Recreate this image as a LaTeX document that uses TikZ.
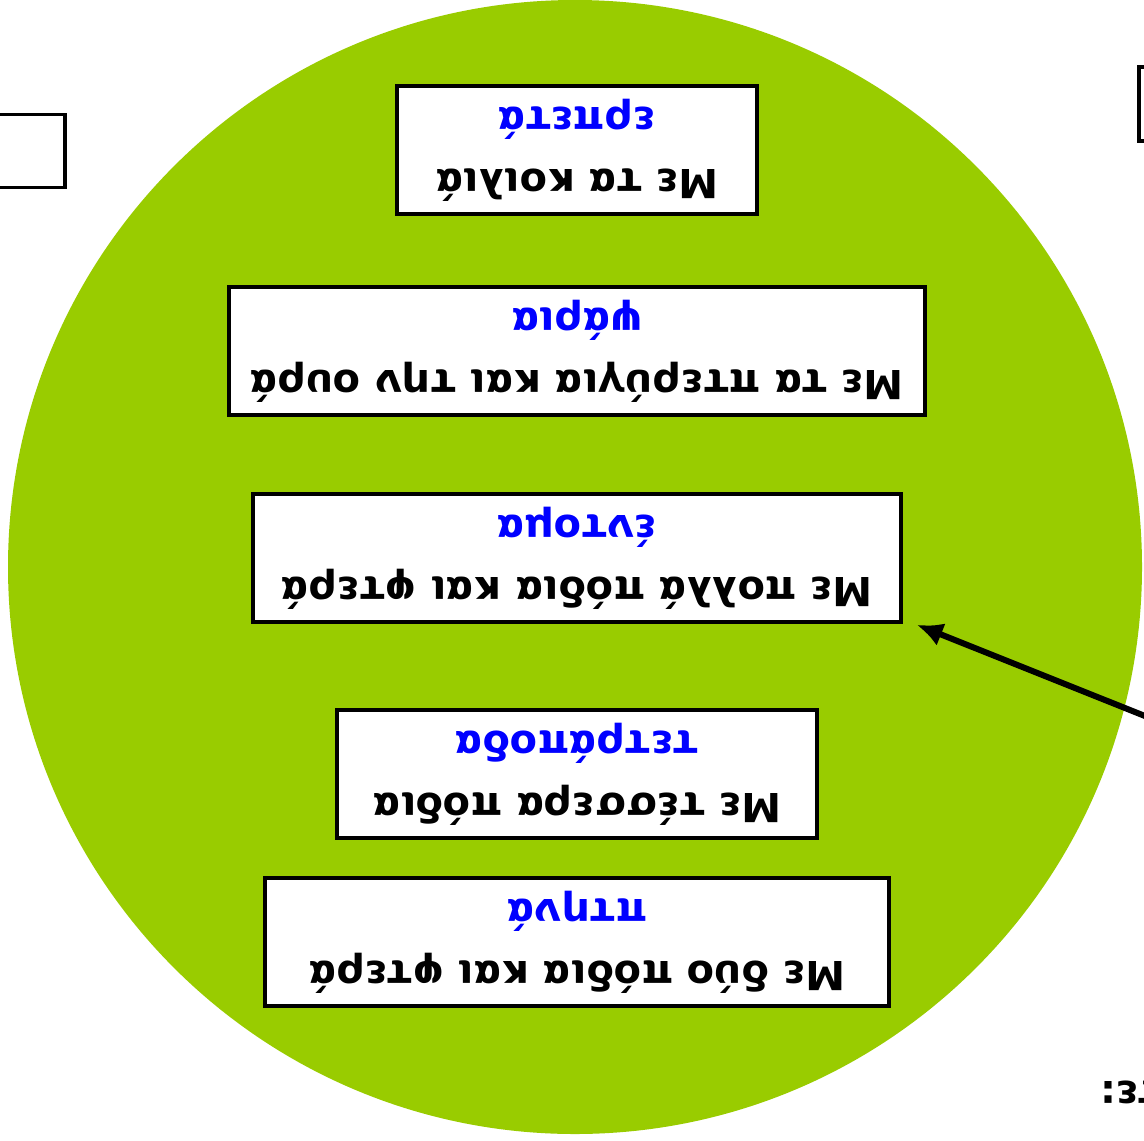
\documentclass[tikz,border=0pt]{standalone}
\usepackage{fontspec}
\setmainfont{DejaVu Sans}
\usepackage{xcolor}
\usetikzlibrary{positioning}
\usetikzlibrary{arrows.meta}
\tikzset{>=latex}
\definecolor{leafgreen}{HTML}{99CC00}
\newcommand{\kind}[1]{\\{\color{blue}#1}}

\begin{document}
\begin{tikzpicture}[x=0.5pt,y=-0.5pt,
    classbox/.style={rectangle,draw,line width=1.8pt,fill=white,align=center,
      minimum height=64pt,inner sep=0pt,rotate=180,
      font=\fontsize{20}{31}\selectfont\bfseries}]
    \useasboundingbox (0,0) rectangle (1144,1140);
    \fill[leafgreen] (575,567) circle [radius=283.5pt];
    % partly seen boxes at the edges
    \node at (20,151) [rectangle,draw,line width=1.8pt,fill=white,minimum width=45pt,minimum height=36.5pt] (left) {};
    \node at (1175,104) [rectangle,draw,line width=1.8pt,fill=white,minimum width=36pt,minimum height=37pt] (right) {};
    \node at (1093,1093) [anchor=east,rotate=180,font=\fontsize{20}{24}\selectfont\bfseries] (task) {Παρατηρήστε:};
    % the groups
    \node at (577,150) [classbox,minimum width=180pt] (reptiles) {Με τα κοιλιά\kind{ερπετά}};
    \node at (577,351) [classbox,minimum width=348pt] (fish) {Με τα πτερύγια και την ουρά\kind{ψάρια}};
    \node at (577,558) [classbox,minimum width=324pt] (insects) {Με πολλά πόδια και φτερά\kind{έντομα}};
    \node at (577,774) [classbox,minimum width=240pt] (quadrupeds) {Με τέσσερα πόδια\kind{τετράποδα}};
    \node at (577,942) [classbox,minimum width=312pt] (birds) {Με δύο πόδια και φτερά\kind{πτηνά}};
    \coordinate (from) at (1200,738);
    \draw [-{Latex[length=13pt,width=12pt]},line width=3pt] (from) to ([xshift=7pt,yshift=-0.5pt]insects.north west);
  \end{tikzpicture}
\end{document}
